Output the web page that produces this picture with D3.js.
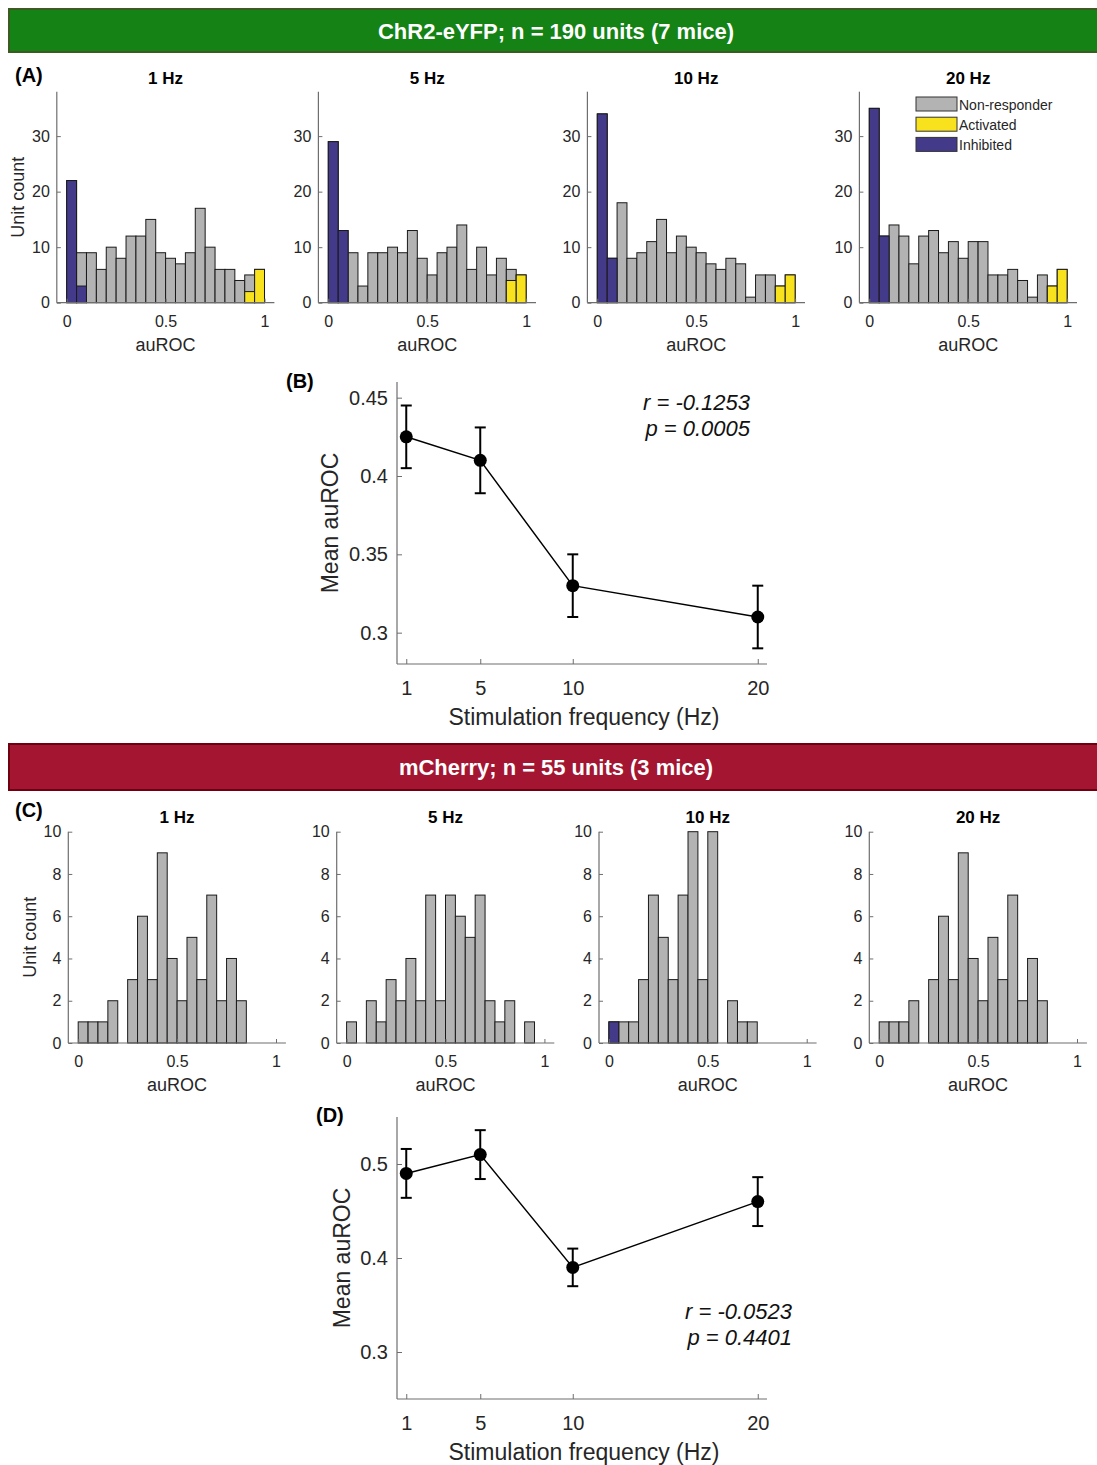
<!DOCTYPE html>
<html>
<head>
<meta charset="utf-8">
<script src="https://cdn.jsdelivr.net/npm/d3@7"></script>
<style>
  html, body { margin: 0; padding: 0; background: #fff; }
  svg { display: block; font-family: "Liberation Sans", Arial, sans-serif; }
</style>
</head>
<body>
<svg id="fig" width="1097" height="1465"></svg>
<script>
// ---------- data ----------
const freqLabels = ["1 Hz", "5 Hz", "10 Hz", "20 Hz"];
const freqValues = [1, 5, 10, 20];
const binStarts = [0, 0.05, 0.1, 0.15, 0.2, 0.25, 0.3, 0.35, 0.4, 0.45,
                   0.5, 0.55, 0.6, 0.65, 0.7, 0.75, 0.8, 0.85, 0.9, 0.95];
const binWidth = 0.05;

// ChR2-eYFP: total units per auROC bin, with inhibited / activated subsets
const chr2Total1 = [22, 9, 9, 6, 10, 8, 12, 12, 15, 9, 8, 7, 9, 17, 10, 6, 6, 4, 5, 6];
const chr2Total5 = [29, 13, 9, 3, 9, 9, 10, 9, 13, 8, 5, 9, 10, 14, 6, 10, 5, 8, 6, 5];
const chr2Total10 = [34, 8, 18, 8, 9, 11, 15, 9, 12, 10, 9, 7, 6, 8, 7, 1, 5, 5, 3, 5];
const chr2Total20 = [35, 12, 14, 12, 7, 12, 13, 9, 11, 8, 11, 11, 5, 5, 6, 4, 1, 5, 3, 6];
const chr2Inhib1 = [22, 3, 0, 0, 0, 0, 0, 0, 0, 0, 0, 0, 0, 0, 0, 0, 0, 0, 0, 0];
const chr2Inhib5 = [29, 13, 0, 0, 0, 0, 0, 0, 0, 0, 0, 0, 0, 0, 0, 0, 0, 0, 0, 0];
const chr2Inhib10 = [34, 8, 0, 0, 0, 0, 0, 0, 0, 0, 0, 0, 0, 0, 0, 0, 0, 0, 0, 0];
const chr2Inhib20 = [35, 12, 0, 0, 0, 0, 0, 0, 0, 0, 0, 0, 0, 0, 0, 0, 0, 0, 0, 0];
const chr2Activ1 = [0, 0, 0, 0, 0, 0, 0, 0, 0, 0, 0, 0, 0, 0, 0, 0, 0, 0, 2, 6];
const chr2Activ5 = [0, 0, 0, 0, 0, 0, 0, 0, 0, 0, 0, 0, 0, 0, 0, 0, 0, 0, 4, 5];
const chr2Activ10 = [0, 0, 0, 0, 0, 0, 0, 0, 0, 0, 0, 0, 0, 0, 0, 0, 0, 0, 3, 5];
const chr2Activ20 = [0, 0, 0, 0, 0, 0, 0, 0, 0, 0, 0, 0, 0, 0, 0, 0, 0, 0, 3, 6];

// mCherry controls
const mchTotal1 = [1, 1, 1, 2, 0, 3, 6, 3, 9, 4, 2, 5, 3, 7, 2, 4, 2, 0, 0, 0];
const mchTotal5 = [1, 0, 2, 1, 3, 2, 4, 2, 7, 2, 7, 6, 5, 7, 2, 1, 2, 0, 1, 0];
const mchTotal10 = [1, 1, 1, 3, 7, 5, 3, 7, 10, 3, 10, 0, 2, 1, 1, 0, 0, 0, 0, 0];
const mchTotal20 = [1, 1, 1, 2, 0, 3, 6, 3, 9, 4, 2, 5, 3, 7, 2, 4, 2, 0, 0, 0];
const mchInhib10 = [1, 0, 0, 0, 0, 0, 0, 0, 0, 0, 0, 0, 0, 0, 0, 0, 0, 0, 0, 0];
const zeros20 = [0, 0, 0, 0, 0, 0, 0, 0, 0, 0, 0, 0, 0, 0, 0, 0, 0, 0, 0, 0];

// Mean auROC per stimulation frequency (± s.e.m.)
const chr2Mean = [0.425, 0.41, 0.33, 0.31];
const chr2Err = [0.02, 0.021, 0.02, 0.02];
const mchMean = [0.49, 0.51, 0.39, 0.46];
const mchErr = [0.026, 0.026, 0.02, 0.026];

const chr2Stats = ["r = -0.1253", "p = 0.0005"];
const mchStats = ["r = -0.0523", "p = 0.4401"];

const histTicksA = [0, 10, 20, 30];
const histTicksC = [0, 2, 4, 6, 8, 10];
const aurocTicks = [0, 0.5, 1];
const meanTicksB = [0.3, 0.35, 0.4, 0.45];
const meanTicksD = [0.3, 0.4, 0.5];

// ---------- style ----------
const COL_GREY = "#b3b3b3";
const COL_INHIB = "#433a8a";
const COL_ACTIV = "#f8e21d";
const AXIS_COL = "#6e6e6e";
const TEXT_COL = "#262626";

const svg = d3.select("#fig");

// ---------- header bars ----------
function headerBar(y, h, fill, stroke, label, len) {
  svg.append("rect").attr("x", 9).attr("y", y).attr("width", 1095).attr("height", h)
    .attr("fill", fill).attr("stroke", stroke).attr("stroke-width", 2);
  svg.append("text").attr("x", 556).attr("y", y + h / 2 + 8)
    .attr("text-anchor", "middle").attr("fill", "#fff")
    .attr("font-weight", "bold").attr("font-size", 22)
    .attr("textLength", len).attr("lengthAdjust", "spacingAndGlyphs")
    .text(label);
}
headerBar(9, 43, "#148214", "#3d5a22", "ChR2-eYFP; n = 190 units (7 mice)", 356);
headerBar(744, 46, "#a31530", "#700010", "mCherry; n = 55 units (3 mice)", 314);

// ---------- histogram panel ----------
function histogram(opts) {
  const x = d3.scaleLinear().domain([-0.05, 1.05]).range([opts.left, opts.left + 217.6]);
  const y = d3.scaleLinear().domain([0, opts.ymax]).range([opts.bottom, opts.top]);
  const g = svg.append("g");

  // grey = all units in the bin; coloured subsets drawn over it
  const layers = [
    { counts: opts.total, fill: COL_GREY },
    { counts: opts.inhib, fill: COL_INHIB },
    { counts: opts.activ, fill: COL_ACTIV }
  ];
  layers.forEach((layer, li) => {
    g.selectAll(null)
      .data(binStarts.map((b, i) => ({ b, c: layer.counts[i] })).filter(d => li === 0 || d.c > 0))
      .enter().append("rect")
      .attr("x", d => x(d.b))
      .attr("width", d => x(d.b + binWidth) - x(d.b))
      .attr("y", d => y(d.c))
      .attr("height", d => y(0) - y(d.c))
      .attr("fill", layer.fill)
      .attr("stroke", "#1a1a1a").attr("stroke-width", 1);
  });

  const ya = g.append("g").attr("transform", `translate(${opts.left},0)`)
    .call(d3.axisLeft(y).tickValues(opts.yticks).tickSize(-4).tickPadding(7));
  const xa = g.append("g").attr("transform", `translate(0,${opts.bottom})`)
    .call(d3.axisBottom(x).tickValues(aurocTicks).tickSize(-4).tickPadding(13)
      .tickFormat(d => String(d)));
  [ya, xa].forEach(a => {
    a.select(".domain").attr("stroke", AXIS_COL).attr("stroke-width", 1.2)
      .attr("d", a === ya ? `M0,${opts.bottom}V${opts.top}` : `M${opts.left},0H${opts.left + 217.6}`);
    a.selectAll(".tick line").attr("stroke", AXIS_COL);
    a.selectAll(".tick text").attr("fill", TEXT_COL).attr("font-size", 16)
      .attr("font-family", "Liberation Sans, Arial, sans-serif");
  });

  g.append("text").attr("x", x(0.5)).attr("y", opts.bottom + 48)
    .attr("text-anchor", "middle").attr("fill", TEXT_COL).attr("font-size", 18).text("auROC");
  g.append("text").attr("x", opts.left + 108.8).attr("y", opts.titleY)
    .attr("text-anchor", "middle").attr("fill", "#000").attr("font-weight", "bold")
    .attr("font-size", 17).text(opts.title);
  if (opts.ylabelX !== undefined) {
    g.append("text")
      .attr("transform", `translate(${opts.ylabelX},${(opts.top + opts.bottom) / 2}) rotate(-90)`)
      .attr("text-anchor", "middle").attr("fill", TEXT_COL).attr("font-size", 18).text("Unit count");
  }
}

// Panel A
const leftsA = [56.8, 318.4, 587.4, 859.4];
const totalsA = [chr2Total1, chr2Total5, chr2Total10, chr2Total20];
const inhibA = [chr2Inhib1, chr2Inhib5, chr2Inhib10, chr2Inhib20];
const activA = [chr2Activ1, chr2Activ5, chr2Activ10, chr2Activ20];
freqLabels.forEach((f, i) => {
  histogram({
    left: leftsA[i], top: 91.7, bottom: 302.7, ymax: 38,
    total: totalsA[i], inhib: inhibA[i], activ: activA[i],
    yticks: histTicksA, title: f, titleY: 84,
    ylabelX: i === 0 ? 24 : undefined
  });
});

// Legend inside the 20 Hz panel
const legendItems = [
  { label: "Non-responder", fill: COL_GREY },
  { label: "Activated", fill: COL_ACTIV },
  { label: "Inhibited", fill: COL_INHIB }
];
const leg = svg.append("g").attr("transform", "translate(916,97)");
legendItems.forEach((d, i) => {
  leg.append("rect").attr("x", 0).attr("y", i * 20.2).attr("width", 41).attr("height", 14)
    .attr("fill", d.fill).attr("stroke", "#333").attr("stroke-width", 1);
  leg.append("text").attr("x", 43).attr("y", i * 20.2 + 12.5)
    .attr("fill", TEXT_COL).attr("font-size", 14).text(d.label);
});

// Panel C
const leftsC = [68.3, 336.7, 599, 869.3];
const totalsC = [mchTotal1, mchTotal5, mchTotal10, mchTotal20];
const inhibC = [zeros20, zeros20, mchInhib10, zeros20];
freqLabels.forEach((f, i) => {
  histogram({
    left: leftsC[i], top: 831.7, bottom: 1043, ymax: 10,
    total: totalsC[i], inhib: inhibC[i], activ: zeros20,
    yticks: histTicksC, title: f, titleY: 823,
    ylabelX: i === 0 ? 36 : undefined
  });
});

// Panel letters
function panelLetter(x, y, t) {
  svg.append("text").attr("x", x).attr("y", y).attr("font-weight", "bold")
    .attr("font-size", 20).attr("fill", "#000").text(t);
}
panelLetter(15, 82, "(A)");
panelLetter(15, 817, "(C)");
panelLetter(286, 388, "(B)");
panelLetter(316, 1122, "(D)");

// ---------- mean auROC panels ----------
function meanPanel(opts) {
  const x = d3.scaleLinear().domain([0.5, 20.5]).range([397, 767]);
  const y = d3.scaleLinear().domain(opts.ydomain).range([opts.bottom, opts.top]);
  const g = svg.append("g");

  const ya = g.append("g").attr("transform", "translate(397,0)")
    .call(d3.axisLeft(y).tickValues(opts.yticks).tickSize(-5).tickPadding(9)
      .tickFormat(d => String(+d.toFixed(2))));
  const xa = g.append("g").attr("transform", `translate(0,${opts.bottom})`)
    .call(d3.axisBottom(x).tickValues(freqValues).tickSize(-5).tickPadding(17));
  [ya, xa].forEach(a => {
    a.select(".domain").attr("stroke", AXIS_COL).attr("stroke-width", 1.2)
      .attr("d", a === ya ? `M0,${opts.bottom}V${opts.top}` : "M397,0H767");
    a.selectAll(".tick line").attr("stroke", AXIS_COL);
    a.selectAll(".tick text").attr("fill", TEXT_COL).attr("font-size", 20)
      .attr("font-family", "Liberation Sans, Arial, sans-serif");
  });

  const pts = freqValues.map((f, i) => ({ f, m: opts.mean[i], e: opts.err[i] }));
  g.append("path").datum(pts)
    .attr("d", d3.line().x(d => x(d.f)).y(d => y(d.m)))
    .attr("fill", "none").attr("stroke", "#000").attr("stroke-width", 1.5);
  const eb = g.selectAll(null).data(pts).enter().append("g");
  eb.append("line").attr("x1", d => x(d.f)).attr("x2", d => x(d.f))
    .attr("y1", d => y(d.m - d.e)).attr("y2", d => y(d.m + d.e))
    .attr("stroke", "#000").attr("stroke-width", 2);
  [-1, 1].forEach(s => {
    eb.append("line").attr("x1", d => x(d.f) - 5.5).attr("x2", d => x(d.f) + 5.5)
      .attr("y1", d => y(d.m + s * d.e)).attr("y2", d => y(d.m + s * d.e))
      .attr("stroke", "#000").attr("stroke-width", 2);
  });
  eb.append("circle").attr("cx", d => x(d.f)).attr("cy", d => y(d.m)).attr("r", 6.5)
    .attr("fill", "#000");

  g.append("text").attr("x", 584).attr("y", opts.bottom + 61)
    .attr("text-anchor", "middle").attr("fill", TEXT_COL).attr("font-size", 23)
    .text("Stimulation frequency (Hz)");
  g.append("text")
    .attr("transform", `translate(${opts.ylabelX},${(opts.top + opts.bottom) / 2}) rotate(-90)`)
    .attr("text-anchor", "middle").attr("fill", TEXT_COL).attr("font-size", 23)
    .text("Mean auROC");
  opts.stats.forEach((s, i) => {
    g.append("text").attr("x", opts.statsX).attr("y", opts.statsY + i * 26)
      .attr("text-anchor", "end").attr("font-style", "italic").attr("font-size", 22)
      .attr("fill", "#111").text(s);
  });
}

meanPanel({
  ydomain: [0.28, 0.46], top: 382, bottom: 664, yticks: meanTicksB,
  mean: chr2Mean, err: chr2Err, stats: chr2Stats, statsX: 750, statsY: 410, ylabelX: 338
});
meanPanel({
  ydomain: [0.25, 0.55], top: 1117, bottom: 1399, yticks: meanTicksD,
  mean: mchMean, err: mchErr, stats: mchStats, statsX: 792, statsY: 1319, ylabelX: 350
});
</script>
</body>
</html>
